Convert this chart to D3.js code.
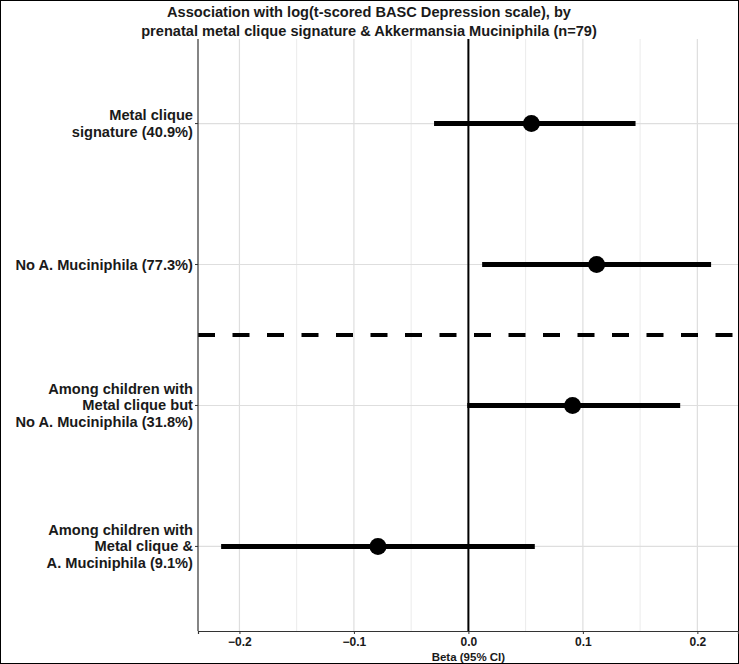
<!DOCTYPE html>
<meta charset="utf-8">
<html>
<style type='text/css'>
	body { margin:0; }
	text { font-family: "Liberation Sans", Arial, sans-serif; font-weight: bold; fill:#1a1a1a; }
</style>
<script src="https://d3js.org/d3.v7.min.js"></script>
<body>
<svg id="my_dataviz" width="739" height="664"></svg>

<script>

// Data
var labels = [
  ["Metal clique", "signature (40.9%)"],
  ["No A. Muciniphila (77.3%)"],
  ["Among children with", "Metal clique but", "No A. Muciniphila (31.8%)"],
  ["Among children with", "Metal clique &", "A. Muciniphila (9.1%)"]
];
var beta  = [0.055, 0.112, 0.091, -0.079];
var lower = [-0.030, 0.012, -0.001, -0.216];
var upper = [0.146, 0.212, 0.185, 0.058];
var xTicks = [-0.2, -0.1, 0.0, 0.1, 0.2];
var xMinor = [-0.15, -0.05, 0.05, 0.15];

var svg = d3.select("svg");
var pLeft = 198, pRight = 738, pTop = 39, pBottom = 631;

// background + outer border
svg.append("rect").attr("x",0.5).attr("y",0.5).attr("width",738).attr("height",663)
  .attr("fill","white").attr("stroke","black");

var x = d3.scaleLinear().domain([-0.2362, 0.2355]).range([pLeft, pRight]);
var y = d3.scaleLinear().domain([0.4, 4.6]).range([pTop, pBottom]);

// grid
var g = svg.append("g");
g.selectAll(".minor").data(xMinor).enter().append("line")
  .attr("x1", d => x(d)).attr("x2", d => x(d)).attr("y1", pTop).attr("y2", pBottom)
  .attr("stroke", "#ebebeb").attr("stroke-width", 1);
g.selectAll(".major").data(xTicks).enter().append("line")
  .attr("x1", d => x(d)).attr("x2", d => x(d)).attr("y1", pTop).attr("y2", pBottom)
  .attr("stroke", "#dedede").attr("stroke-width", 1.2);
g.selectAll(".hgrid").data(labels).enter().append("line")
  .attr("x1", pLeft).attr("x2", pRight).attr("y1", (d,i) => y(i+1)).attr("y2", (d,i) => y(i+1))
  .attr("stroke", "#dedede").attr("stroke-width", 1.2);

// zero line
g.append("line").attr("x1", x(0)).attr("x2", x(0)).attr("y1", pTop).attr("y2", pBottom)
  .attr("stroke", "black").attr("stroke-width", 2);

// dashed separator
g.append("line").attr("x1", pLeft).attr("x2", pRight).attr("y1", y(2.5)).attr("y2", y(2.5))
  .attr("stroke", "black").attr("stroke-width", 4).attr("stroke-dasharray", "17,17.5");

// error bars and points
g.selectAll(".ci").data(beta).enter().append("line")
  .attr("x1", (d,i) => x(lower[i])).attr("x2", (d,i) => x(upper[i]))
  .attr("y1", (d,i) => y(i+1)).attr("y2", (d,i) => y(i+1))
  .attr("stroke", "black").attr("stroke-width", 5);
g.selectAll(".pt").data(beta).enter().append("circle")
  .attr("cx", d => x(d)).attr("cy", (d,i) => y(i+1)).attr("r", 8.5)
  .attr("fill", "black");

// axes
var xAxis = svg.append("g").attr("transform", "translate(0," + pBottom + ")")
  .call(d3.axisBottom(x).tickValues(xTicks).tickFormat(d3.format(".1f")).tickSize(3));
xAxis.select(".domain").attr("stroke", "#333").attr("stroke-width", 1.2);
xAxis.selectAll(".tick line").attr("stroke", "#333");
xAxis.selectAll("text").style("font-size", "12px").attr("dy", "0.78em").attr("fill", "#1a1a1a");

svg.append("line").attr("x1", pLeft).attr("x2", pLeft).attr("y1", pTop).attr("y2", pBottom)
  .attr("stroke", "#333").attr("stroke-width", 1.2);

labels.forEach(function(lines, i) {
  var cy = y(i+1);
  svg.append("line").attr("x1", pLeft-3).attr("x2", pLeft).attr("y1", cy).attr("y2", cy)
    .attr("stroke", "#333");
  var t = svg.append("text").attr("text-anchor", "end").style("font-size", "14.65px");
  var n = lines.length;
  lines.forEach(function(s, k) {
    t.append("tspan").attr("x", pLeft - 5)
      .attr("y", cy + (k - (n-1)/2) * 16.5 + 5).text(s);
  });
});

// axis title
svg.append("text").attr("x", x(0)).attr("y", 660.5).attr("text-anchor", "middle")
  .style("font-size", "11.5px").text("Beta (95% CI)");

// title
svg.append("text").attr("x", 369).attr("y", 17).attr("text-anchor", "middle")
  .style("font-size", "14.6px").text("Association with log(t-scored BASC Depression scale), by");
svg.append("text").attr("x", 369).attr("y", 36).attr("text-anchor", "middle")
  .style("font-size", "14.6px").text("prenatal metal clique signature & Akkermansia Muciniphila (n=79)");

</script>
</body>
</html>
